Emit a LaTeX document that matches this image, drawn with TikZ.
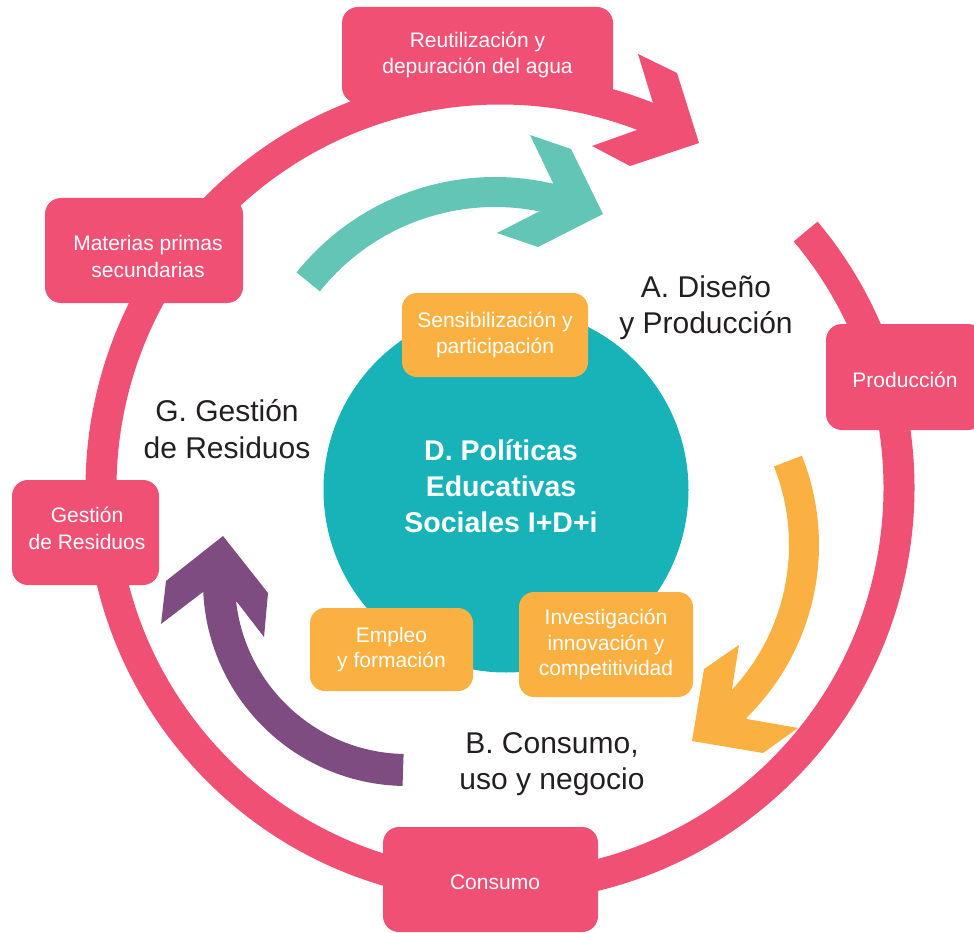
\documentclass[tikz,border=0pt]{standalone}
\usepackage{fontspec}
\setmainfont{Liberation Sans}
\definecolor{ringpink}{HTML}{EF5073}
\definecolor{tealarrow}{HTML}{62C5B5}
\definecolor{purplearrow}{HTML}{7F4C82}
\definecolor{orangec}{HTML}{FBB142}
\definecolor{tealcircle}{HTML}{17B3B8}
\definecolor{darktext}{HTML}{231F20}
\begin{document}
\begin{tikzpicture}[x=1pt,y=-1pt,
  pinkbox/.style={fill=ringpink, rounded corners=16pt, inner sep=0pt},
  boxtext/.style={text=white, inner sep=0pt, font=\fontsize{21}{26.5}\selectfont, align=center},
  orangebox/.style={fill=orangec, rounded corners=15pt, inner sep=0pt, text=white,
    font=\fontsize{21}{25.5}\selectfont, align=center},
  biglabel/.style={text=darktext, font=\fontsize{30}{36.5}\selectfont, align=center},
  ringline/.style={draw=ringpink, line width=31pt},
  arrowline/.style={line width=#1}
]
\useasboundingbox (0,0) rectangle (974,933);

% ---- outer ring ----
\coordinate (ringc) at (500,488);
\draw[ringline] (ringc) ++(-40:399) arc[start angle=-40, end angle=293, radius=399];
\fill[ringpink] (638,54) -- (677,73) -- (699,143) -- (630,166) -- (592,146) -- (637,130) -- (653,103) -- cycle;

% ---- pink boxes ----
\node[pinkbox, minimum width=271pt, minimum height=96pt] (reut) at (477.5,55) {};
\node[boxtext] (reuttext) at (reut.center) {Reutilización y\\depuración del agua};
\node[pinkbox, minimum width=198pt, minimum height=105pt] (mat) at (144,250.5) {};
\node[boxtext] (mattext) at ([shift={(4,6)}]mat.center) {Materias primas\\secundarias};
\node[pinkbox, minimum width=147pt, minimum height=105pt] (gest) at (85.5,532.5) {};
\node[boxtext] (gesttext) at ([shift={(1.5,-4)}]gest.center) {Gestión\\de Residuos};
\node[pinkbox, minimum width=158pt, minimum height=106pt] (prod) at (905,377) {};
\node[boxtext] (prodtext) at ([shift={(0,3)}]prod.center) {Producción};
\node[pinkbox, minimum width=215pt, minimum height=105pt] (cons) at (490.5,879.5) {};
\node[boxtext] (constext) at ([shift={(4.5,3)}]cons.center) {Consumo};

% ---- central circle ----
\node[circle, fill=tealcircle, minimum size=365pt, inner sep=0pt] (pol) at (506,490) {};
\node[text=white, font=\bfseries\fontsize{28.5}{36.3}\selectfont, align=center] (poltext) at (501,486)
  {D. Políticas\\Educativas\\Sociales I+D+i};

% ---- orange boxes ----
\node[orangebox, minimum width=186pt, minimum height=84pt] (sens) at (495,335)
  {Sensibilización y\\participación};
\node[orangebox, minimum width=163pt, minimum height=83pt] (empl) at (391.5,649.5)
  {Empleo\\y formación};
\node[orangebox, minimum width=174pt, minimum height=105pt] (inv) at (606,644.5)
  {Investigación\\innovación y\\competitividad};

% ---- inner arrows ----
\coordinate (tealc) at (495,431);
\draw[tealarrow, arrowline=30pt] (tealc) ++(-141.4:239) arc[start angle=-141.4, end angle=-74, radius=239];
\fill[tealarrow] (530,135) -- (571,149) -- (603,214) -- (538,247) -- (497,233) -- (540,211) -- (553,183) -- cycle;

\coordinate (orangecen) at (577,545);
\draw[orangec, arrowline=30pt] (orangecen) ++(-21.7:227) arc[start angle=-21.7, end angle=46.5, radius=227];
\fill[orangec] (739,645) -- (704,669) -- (692,741) -- (763,753) -- (798,728) -- (747,719) -- (732,689) -- cycle;

\coordinate (purplec) at (407,582);
\draw[purplearrow, arrowline=32pt] (purplec) ++(91.2:188) arc[start angle=91.2, end angle=178, radius=188];
\fill[purplearrow] (223,536) -- (268,593) -- (264,637) -- (237,602) -- (203,592) -- (161,624) -- (166,581) -- cycle;

% ---- stage labels ----
\node[biglabel] (labA) at (706,307.7) {A. Diseño\\y Producción};
\node[biglabel] (labG) at (227,429) {G. Gestión\\de Residuos};
\node[biglabel] (labB) at (552,764) {B. Consumo,\\uso y negocio};
\end{tikzpicture}
\end{document}
